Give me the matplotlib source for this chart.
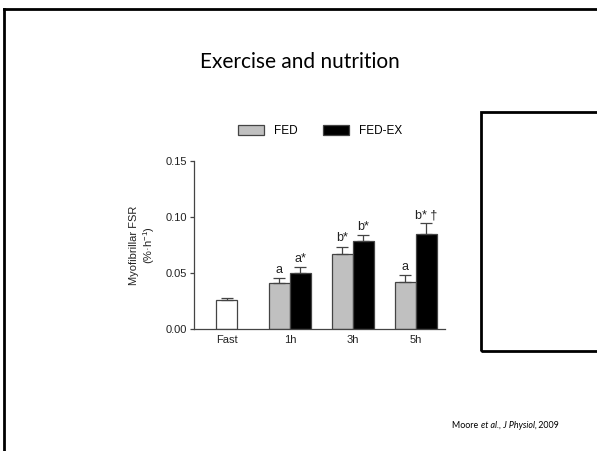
import matplotlib
matplotlib.use("Agg")
import matplotlib.pyplot as plt
from matplotlib.lines import Line2D
from matplotlib.patches import Rectangle, Patch
import numpy as np

plt.rcParams["mathtext.fontset"] = "custom"
plt.rcParams["mathtext.rm"] = "Liberation Sans"
plt.rcParams["mathtext.it"] = "Liberation Sans:italic"

# data
groups = ["Fast", "1h", "3h", "5h"]
fast_val = 0.026
fast_err = 0.0017
fed_vals = [0.041, 0.067, 0.042]
fed_err = [0.0045, 0.0065, 0.006]
fedex_vals = [0.050, 0.0786, 0.085]
fedex_err = [0.0052, 0.0054, 0.0094]
fed_labels = ["a", "b*", "a"]
fedex_labels = ["a*", "b*", "b* \u2020"]

W, H = 597, 451
fig = plt.figure(figsize=(W / 100, H / 100), dpi=100)

# slide frame (top + left edge) and the empty box on the right
fig.add_artist(Line2D([4 / W, 1], [1 - 9 / H, 1 - 9 / H], color="black", lw=2))
fig.add_artist(Line2D([4 / W, 4 / W], [0, 1 - 9 / H], color="black", lw=2))
fig.add_artist(Rectangle((481 / W, 1 - 351 / H), 1.2 - 481 / W, (351 - 112) / H,
                         transform=fig.transFigure, fill=False, ec="black", lw=2))

fig.text(300 / W, 1 - 62 / H, "Exercise and nutrition", ha="center", va="center",
         fontsize=15, family="Lato")

# citation, pieced together so the italic part stays in the same font
renderer = fig.canvas.get_renderer()
xpos = 452 / W
for piece, style in [("Moore ", "normal"), ("et al., J Physiol,", "italic"), (" 2009", "normal")]:
    t = fig.text(xpos, 1 - 426 / H, piece, ha="left", va="center", fontsize=6.4,
                 family="Lato", style=style)
    bb = t.get_window_extent(renderer)
    xpos += bb.width / W

ax = fig.add_axes([194 / W, 1 - 329 / H, (445 - 194) / W, (329 - 161) / H])
bw = 0.333
ec = "#444444"
x = np.arange(1, 4)

ax.bar(0, fast_val, bw, color="white", edgecolor=ec, lw=0.9)
ax.errorbar(0, fast_val, yerr=[[0], [fast_err]], fmt="none", ecolor=ec,
            elinewidth=0.9, capsize=4, capthick=0.9)
ax.bar(x - bw / 2, fed_vals, bw, color="#c0c0c0", edgecolor=ec, lw=0.9)
ax.errorbar(x - bw / 2, fed_vals, yerr=[[0] * 3, fed_err], fmt="none", ecolor=ec,
            elinewidth=0.9, capsize=4, capthick=0.9)
ax.bar(x + bw / 2, fedex_vals, bw, color="black", edgecolor=ec, lw=0.9)
ax.errorbar(x + bw / 2, fedex_vals, yerr=[[0] * 3, fedex_err], fmt="none", ecolor=ec,
            elinewidth=0.9, capsize=4, capthick=0.9)

for xi, v, e, t in zip(x - bw / 2, fed_vals, fed_err, fed_labels):
    ax.text(xi, v + e + 0.002, t, ha="center", va="bottom", fontsize=9,
            family="Liberation Sans", color="#222222")
for xi, v, e, t in zip(x + bw / 2, fedex_vals, fedex_err, fedex_labels):
    ax.text(xi, v + e + 0.002, t, ha="center", va="bottom", fontsize=9,
            family="Liberation Sans", color="#222222")

ax.set_xlim(-0.52, 3.46)
ax.set_ylim(0, 0.15)
ax.set_yticks([0, 0.05, 0.10, 0.15])
ax.set_yticklabels(["0.00", "0.05", "0.10", "0.15"])
ax.set_xticks([0, 1, 2, 3])
ax.set_xticklabels(groups)
for lab in ax.get_xticklabels() + ax.get_yticklabels():
    lab.set_family("Liberation Sans")
    lab.set_fontsize(8)
    lab.set_color("#222222")
ax.tick_params(axis="y", length=3, width=0.9, color=ec, pad=2)
ax.tick_params(axis="x", length=0, pad=4)
for s in ["top", "right"]:
    ax.spines[s].set_visible(False)
for s in ["left", "bottom"]:
    ax.spines[s].set_color(ec)
    ax.spines[s].set_linewidth(0.9)

ax.set_ylabel("Myofibrillar FSR\n(%\u00b7h$^{-1}$)", fontsize=8,
              family="Liberation Sans", color="#222222", labelpad=6)

handles = [Patch(facecolor="#c0c0c0", edgecolor=ec, lw=0.9),
           Patch(facecolor="black", edgecolor=ec, lw=0.9)]
fig.legend(handles, ["FED", "FED-EX"], loc="center", ncol=2,
           bbox_to_anchor=(320 / W, 1 - 131 / H), frameon=False,
           prop={"family": "Liberation Sans", "size": 8.5},
           handlelength=2.2, handleheight=1.0, columnspacing=2.2, handletextpad=0.8)

fig.savefig("out.png", dpi=100)
